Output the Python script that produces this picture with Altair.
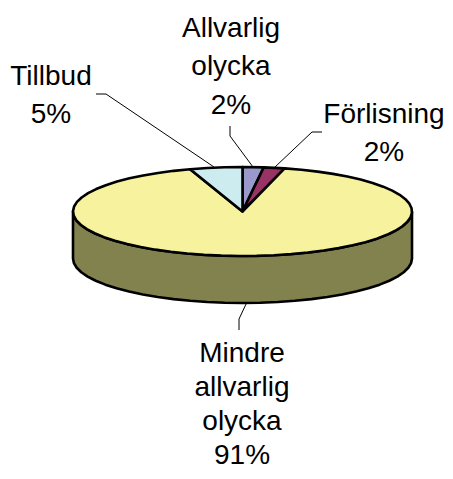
import math
import altair as alt
import pandas as pd

# Chart data
categories = ["Allvarlig olycka", "Förlisning", "Mindre allvarlig olycka", "Tillbud"]
values = [2, 2, 91, 5]
label_texts = ["Allvarlig\nolycka\n2%", "Förlisning\n2%", "Mindre\nallvarlig\nolycka\n91%", "Tillbud\n5%"]

# Styling and layout (page pixels)
top_colors = ["#9999CC", "#993366", "#F6F29E", "#CDECF0"]
side_color = "#82824F"
CX, CY, RX, RY, DEPTH = 242.5, 211.5, 169.5, 44.5, 47
label_pos = [(231, 37), (384, 123), (242, 362), (51, 85)]
line_heights = [38.3, 38.3, 34, 38.3]
leaders = [
    [(230, 126), (230, 136), (253, 167)],
    [(322, 132), (312, 132), (275, 167)],
    [(239, 330), (239, 319), (247, 302)],
    [(96, 94), (106, 94), (214, 167)],
]

x_scale = alt.Scale(domain=[8, 445], nice=False, zero=False)
y_scale = alt.Scale(domain=[471, 8], nice=False, zero=False)
X = alt.X("x:Q", scale=x_scale, axis=None)
Y = alt.Y("y:Q", scale=y_scale, axis=None)


def rim(deg, dy=0.0):
    a = math.radians(deg)
    return (CX + RX * math.sin(a), CY - RY * math.cos(a) + dy)


def arc_range(a0, a1, step=6.0):
    n = max(1, int(round((a1 - a0) / step)))
    return [a0 + (a1 - a0) * k / n for k in range(n + 1)]


def polygon(points, fill):
    df = pd.DataFrame({"x": [p[0] for p in points], "y": [p[1] for p in points], "i": range(len(points))})
    return (
        alt.Chart(df)
        .mark_line(fill=fill, stroke="black", strokeWidth=2.6, strokeJoin="round", interpolate="linear-closed")
        .encode(x=X, y=Y, order="i:Q")
    )


layers = []

# Side wall: front half of the rim, extruded downward
front = arc_range(90, 270)
side_pts = [rim(a) for a in front] + [rim(a, DEPTH) for a in reversed(front)]
layers.append(polygon(side_pts, side_color))

# Top face slices, from the shares
total = sum(values)
start = 0.0
for v, color in zip(values, top_colors):
    end = start + 360.0 * v / total
    pts = [(CX, CY)] + [rim(a) for a in arc_range(start, end)]
    layers.append(polygon(pts, color))
    start = end

# Leader lines
for line in leaders:
    df = pd.DataFrame({"x": [p[0] for p in line], "y": [p[1] for p in line], "i": range(len(line))})
    layers.append(alt.Chart(df).mark_line(color="black", strokeWidth=1).encode(x=X, y=Y, order="i:Q"))

# Labels
for name, text, pos, lh in zip(categories, label_texts, label_pos, line_heights):
    lab = pd.DataFrame({"category": [name], "text": [text], "x": [pos[0]], "y": [pos[1]]})
    layers.append(
        alt.Chart(lab)
        .mark_text(font="Liberation Sans", fontSize=28, color="black", align="center", baseline="alphabetic",
                   lineBreak="\n", lineHeight=lh)
        .encode(x=X, y=Y, text="text:N")
    )

chart = (
    alt.layer(*layers)
    .properties(width=437, height=463, padding=0, background="white",
                autosize=alt.AutoSizeParams(type="none", contains="padding"))
    .configure_view(stroke=None)
)
chart.save("out.html", embed_options={"renderer": "svg", "actions": False})
